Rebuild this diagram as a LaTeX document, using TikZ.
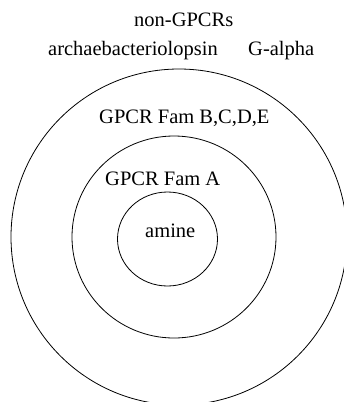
\documentclass[tikz,border=0pt]{standalone}
\usepackage{fontspec}
\setmainfont{Liberation Serif}
\usetikzlibrary{shapes.geometric}
\begin{document}
\begin{tikzpicture}[x=1bp,y=-1bp,
  ring/.style={draw, ellipse, line width=0.8bp, inner sep=0pt},
  lbl/.style={anchor=base west, inner sep=0pt, font=\fontsize{20.5bp}{24bp}\selectfont}]
\useasboundingbox (0,0) rectangle (344,402);
\clip (0,0) rectangle (344,402);
\node[ring, minimum width=336bp, minimum height=336bp] (outer) at (179,237) {};
\node[ring, minimum width=204bp, minimum height=202bp] (middle) at (174,237) {};
\node[ring, minimum width=100bp, minimum height=94bp] (inner) at (167.5,239) {};
\node[lbl] (nong) at (134,26) {non-GPCRs};
\node[lbl] (archae) at (48,55) {archaebacteriolopsin};
\node[lbl] (galpha) at (248,55) {G-alpha};
\node[lbl] (famb) at (99,123) {GPCR Fam B,C,D,E};
\node[lbl] (fama) at (105,185) {GPCR Fam A};
\node[lbl] (amine) at (145,237) {amine};
\end{tikzpicture}
\end{document}
